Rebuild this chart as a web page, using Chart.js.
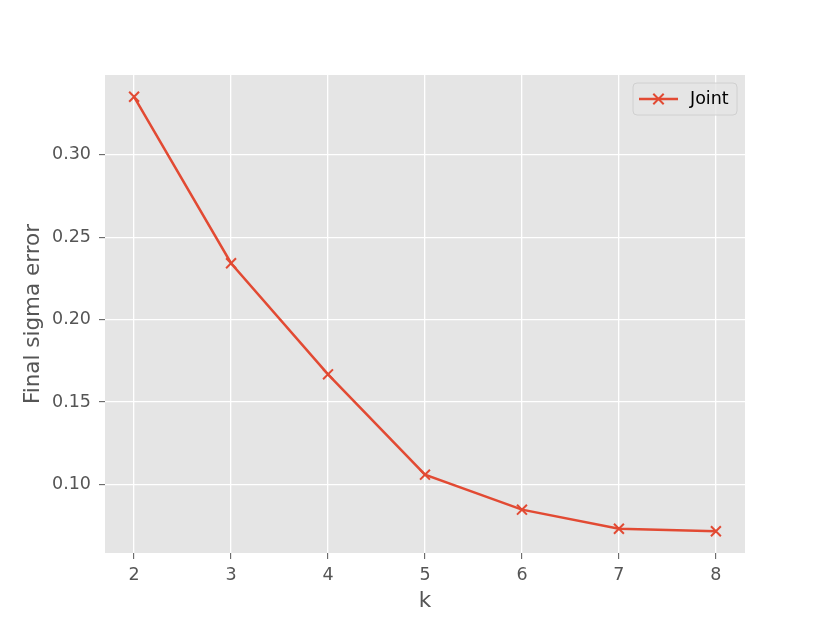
<!DOCTYPE html>
<html>
<head>
<meta charset="utf-8">
<script src="https://cdn.jsdelivr.net/npm/chart.js@4/dist/chart.umd.min.js"></script>
<style>
html,body{margin:0;padding:0;background:#fff;}
canvas{display:block;}
</style>
</head>
<body>
<canvas id="c" width="830" height="623"></canvas>
<script>
const kValues = [2, 3, 4, 5, 6, 7, 8];
const jointErrors = [0.3352, 0.2342, 0.1668, 0.1059, 0.0847, 0.0731, 0.0716];
const xTicks = [2, 3, 4, 5, 6, 7, 8];
const yTicks = [0.10, 0.15, 0.20, 0.25, 0.30];
const seriesLabel = 'Joint';
const xTitle = 'k';
const yTitle = 'Final sigma error';

const RED = '#E24A33';
const FONT = "'DejaVu Sans', sans-serif";

const bgPlugin = {
  id: 'bg',
  beforeDraw(chart) {
    const {ctx, chartArea: a} = chart;
    ctx.save();
    ctx.fillStyle = '#E5E5E5';
    ctx.fillRect(a.left, a.top, a.right - a.left, a.bottom - a.top);
    ctx.restore();
  }
};

const legendPlugin = {
  id: 'customLegend',
  afterDraw(chart) {
    const ctx = chart.ctx;
    const x0 = 633, y0 = 83, w = 104, h = 32, r = 4;
    ctx.save();
    ctx.beginPath();
    ctx.moveTo(x0 + r, y0);
    ctx.arcTo(x0 + w, y0, x0 + w, y0 + h, r);
    ctx.arcTo(x0 + w, y0 + h, x0, y0 + h, r);
    ctx.arcTo(x0, y0 + h, x0, y0, r);
    ctx.arcTo(x0, y0, x0 + w, y0, r);
    ctx.closePath();
    ctx.fillStyle = 'rgba(229,229,229,0.8)';
    ctx.fill();
    ctx.strokeStyle = '#D0D0D0';
    ctx.lineWidth = 1;
    ctx.stroke();
    const cy = y0 + h / 2;
    ctx.strokeStyle = RED;
    ctx.lineWidth = 2.5;
    ctx.beginPath();
    ctx.moveTo(639, cy);
    ctx.lineTo(678, cy);
    ctx.stroke();
    ctx.lineWidth = 2;
    const m = 5.2, mx = 658.5;
    ctx.beginPath();
    ctx.moveTo(mx - m, cy - m); ctx.lineTo(mx + m, cy + m);
    ctx.moveTo(mx - m, cy + m); ctx.lineTo(mx + m, cy - m);
    ctx.stroke();
    ctx.fillStyle = '#000';
    ctx.font = "17.5px " + FONT;
    ctx.textBaseline = 'middle';
    ctx.textAlign = 'left';
    ctx.fillText(chart.data.datasets[0].label, 690, cy);
    ctx.restore();
  }
};

new Chart(document.getElementById('c'), {
  type: 'line',
  data: {
    datasets: [{
      label: seriesLabel,
      data: kValues.map((k, i) => ({x: k, y: jointErrors[i]})),
      borderColor: RED,
      backgroundColor: RED,
      borderWidth: 2.5,
      pointStyle: 'crossRot',
      pointRadius: 7,
      pointBorderWidth: 2,
      pointBorderColor: RED,
      pointHoverRadius: 7,
      tension: 0,
      fill: false
    }]
  },
  options: {
    responsive: false,
    animation: false,
    devicePixelRatio: 1,
    layout: {padding: {left: 0, top: 75, right: 85, bottom: 0}},
    plugins: {legend: {display: false}, tooltip: {enabled: false}},
    scales: {
      x: {
        type: 'linear',
        min: 1.7, max: 8.3,
        afterBuildTicks(s) { s.ticks = xTicks.map(v => ({value: v})); },
        afterFit(s) { s.height = 70; },
        grid: {color: '#FFFFFF', lineWidth: 1.3, tickColor: '#555555', tickLength: 6, tickWidth: 1},
        border: {display: false},
        ticks: {color: '#555555', font: {family: FONT, size: 17.5}, padding: 6, maxRotation: 0,
                callback: v => String(v)},
        title: {display: true, text: xTitle, color: '#555555', font: {family: FONT, size: 21.5}, padding: {top: 0, bottom: 9}}
      },
      y: {
        type: 'linear',
        min: 0.0584, max: 0.3484,
        afterBuildTicks(s) { s.ticks = yTicks.map(v => ({value: v})); },
        afterFit(s) { s.width = 105; },
        grid: {color: '#FFFFFF', lineWidth: 1.3, tickColor: '#555555', tickLength: 6, tickWidth: 1},
        border: {display: false},
        ticks: {color: '#555555', font: {family: FONT, size: 17.5}, padding: 8,
                callback: v => Number(v).toFixed(2)},
        title: {display: true, text: yTitle, color: '#555555', font: {family: FONT, size: 21.5}, padding: {top: 21, bottom: 0}}
      }
    }
  },
  plugins: [bgPlugin, legendPlugin]
});
</script>
</body>
</html>
